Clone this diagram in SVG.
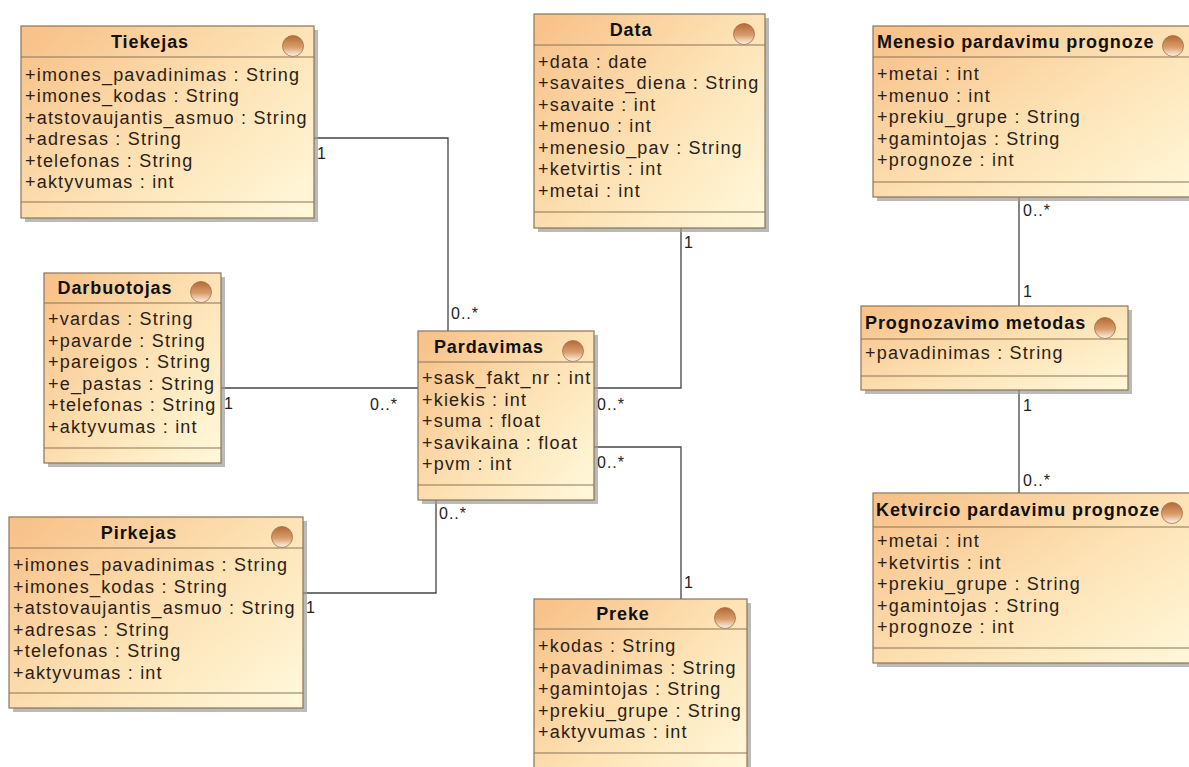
<svg xmlns="http://www.w3.org/2000/svg" width="1189" height="767" viewBox="0 0 1189 767">
<defs>
<linearGradient id="fillG" x1="0" y1="0.1" x2="1" y2="0.9">
<stop offset="0" stop-color="#F8C28A"/>
<stop offset="0.55" stop-color="#FDE3B6"/>
<stop offset="1" stop-color="#FFF7D8"/>
</linearGradient>
<linearGradient id="ballG" x1="0" y1="0" x2="0" y2="1">
<stop offset="0" stop-color="#B56A36"/>
<stop offset="0.55" stop-color="#D99C6A"/>
<stop offset="1" stop-color="#FFF6EC"/>
</linearGradient>
<style>
.shadow{fill:#9c9c9c;opacity:0.7}
.box{fill:url(#fillG);stroke:#8C7556;stroke-width:1.2}
.div{stroke:#8C7556;stroke-width:1.2}
.ball{fill:url(#ballG);stroke:#A07048;stroke-width:0.8}
.title{font-family:"Liberation Sans",Arial,sans-serif;font-weight:bold;font-size:18px;fill:#111;letter-spacing:0.9px}
.attr{font-family:"Liberation Sans",Arial,sans-serif;font-size:18px;fill:#2a1e16;letter-spacing:1.2px}
.mult{font-family:"Liberation Sans",Arial,sans-serif;font-size:16px;fill:#222;letter-spacing:1px}
.conn{fill:none;stroke:#444;stroke-width:1.3}
</style>
</defs>
<rect width="1189" height="767" fill="#ffffff"/>

<g id="connectors">
<path class="conn" d="M314 138 H448 V331"/>
<path class="conn" d="M221 388 H418"/>
<path class="conn" d="M681 228 V388 H594"/>
<path class="conn" d="M594 447 H681 V599"/>
<path class="conn" d="M436 500 V593 H303"/>
<path class="conn" d="M1019 197 V306"/>
<path class="conn" d="M1019 390 V493"/>
<text class="mult" x="317" y="159">1</text>
<text class="mult" x="451" y="319">0..*</text>
<text class="mult" x="224" y="409">1</text>
<text class="mult" x="370" y="410">0..*</text>
<text class="mult" x="597" y="410">0..*</text>
<text class="mult" x="684" y="248">1</text>
<text class="mult" x="597" y="468">0..*</text>
<text class="mult" x="684" y="588">1</text>
<text class="mult" x="439" y="519">0..*</text>
<text class="mult" x="306" y="613">1</text>
<text class="mult" x="1023" y="216">0..*</text>
<text class="mult" x="1023" y="297">1</text>
<text class="mult" x="1023" y="411">1</text>
<text class="mult" x="1023" y="486">0..*</text>
</g>

<g id="tiekejas">
<rect class="shadow" x="25" y="30" width="293" height="192"/>
<rect class="box" x="21" y="26" width="293" height="192"/>
<line class="div" x1="21" y1="57" x2="314" y2="57"/>
<line class="div" x1="21" y1="202" x2="314" y2="202"/>
<circle class="ball" cx="293" cy="46" r="10.5"/>
<text class="title" x="150" y="48" text-anchor="middle">Tiekejas</text>
<text class="attr" x="25" y="80.5">+imones_pavadinimas : String</text>
<text class="attr" x="25" y="102">+imones_kodas : String</text>
<text class="attr" x="25" y="123.5">+atstovaujantis_asmuo : String</text>
<text class="attr" x="25" y="145">+adresas : String</text>
<text class="attr" x="25" y="166.5">+telefonas : String</text>
<text class="attr" x="25" y="188">+aktyvumas : int</text>
</g>

<g id="data">
<rect class="shadow" x="538" y="18" width="231" height="214"/>
<rect class="box" x="534" y="14" width="231" height="214"/>
<line class="div" x1="534" y1="45" x2="765" y2="45"/>
<line class="div" x1="534" y1="212" x2="765" y2="212"/>
<circle class="ball" cx="744" cy="34" r="10.5"/>
<text class="title" x="631" y="36" text-anchor="middle">Data</text>
<text class="attr" x="538" y="67.5">+data : date</text>
<text class="attr" x="538" y="89">+savaites_diena : String</text>
<text class="attr" x="538" y="110.5">+savaite : int</text>
<text class="attr" x="538" y="132">+menuo : int</text>
<text class="attr" x="538" y="153.5">+menesio_pav : String</text>
<text class="attr" x="538" y="175">+ketvirtis : int</text>
<text class="attr" x="538" y="196.5">+metai : int</text>
</g>

<g id="menesio">
<rect class="shadow" x="877" y="30" width="330" height="171"/>
<rect class="box" x="873" y="26" width="330" height="171"/>
<line class="div" x1="873" y1="57" x2="1203" y2="57"/>
<line class="div" x1="873" y1="182" x2="1203" y2="182"/>
<circle class="ball" cx="1173" cy="46" r="10.5"/>
<text class="title" x="877" y="48">Menesio pardavimu prognoze</text>
<text class="attr" x="877" y="80">+metai : int</text>
<text class="attr" x="877" y="101.5">+menuo : int</text>
<text class="attr" x="877" y="123">+prekiu_grupe : String</text>
<text class="attr" x="877" y="144.5">+gamintojas : String</text>
<text class="attr" x="877" y="166">+prognoze : int</text>
</g>

<g id="darbuotojas">
<rect class="shadow" x="48" y="277" width="177" height="190"/>
<rect class="box" x="44" y="273" width="177" height="190"/>
<line class="div" x1="44" y1="303" x2="221" y2="303"/>
<line class="div" x1="44" y1="448" x2="221" y2="448"/>
<circle class="ball" cx="201" cy="292" r="10.5"/>
<text class="title" x="115" y="294" text-anchor="middle">Darbuotojas</text>
<text class="attr" x="48" y="325">+vardas : String</text>
<text class="attr" x="48" y="346.5">+pavarde : String</text>
<text class="attr" x="48" y="368">+pareigos : String</text>
<text class="attr" x="48" y="389.5">+e_pastas : String</text>
<text class="attr" x="48" y="411">+telefonas : String</text>
<text class="attr" x="48" y="432.5">+aktyvumas : int</text>
</g>

<g id="pardavimas">
<rect class="shadow" x="422" y="335" width="176" height="169"/>
<rect class="box" x="418" y="331" width="176" height="169"/>
<line class="div" x1="418" y1="362" x2="594" y2="362"/>
<line class="div" x1="418" y1="485" x2="594" y2="485"/>
<circle class="ball" cx="573" cy="351" r="10.5"/>
<text class="title" x="489" y="352.5" text-anchor="middle">Pardavimas</text>
<text class="attr" x="422" y="384">+sask_fakt_nr : int</text>
<text class="attr" x="422" y="405.5">+kiekis : int</text>
<text class="attr" x="422" y="427">+suma : float</text>
<text class="attr" x="422" y="448.5">+savikaina : float</text>
<text class="attr" x="422" y="470">+pvm : int</text>
</g>

<g id="prognozavimo">
<rect class="shadow" x="865" y="310" width="267" height="84"/>
<rect class="box" x="861" y="306" width="267" height="84"/>
<line class="div" x1="861" y1="339" x2="1128" y2="339"/>
<line class="div" x1="861" y1="376" x2="1128" y2="376"/>
<circle class="ball" cx="1105" cy="328" r="10.5"/>
<text class="title" x="865" y="328.5">Prognozavimo metodas</text>
<text class="attr" x="865" y="359">+pavadinimas : String</text>
</g>

<g id="pirkejas">
<rect class="shadow" x="13" y="521" width="294" height="191"/>
<rect class="box" x="9" y="517" width="294" height="191"/>
<line class="div" x1="9" y1="548" x2="303" y2="548"/>
<line class="div" x1="9" y1="693" x2="303" y2="693"/>
<circle class="ball" cx="282" cy="537" r="10.5"/>
<text class="title" x="139" y="538.5" text-anchor="middle">Pirkejas</text>
<text class="attr" x="13" y="571">+imones_pavadinimas : String</text>
<text class="attr" x="13" y="592.5">+imones_kodas : String</text>
<text class="attr" x="13" y="614">+atstovaujantis_asmuo : String</text>
<text class="attr" x="13" y="635.5">+adresas : String</text>
<text class="attr" x="13" y="657">+telefonas : String</text>
<text class="attr" x="13" y="678.5">+aktyvumas : int</text>
</g>

<g id="preke">
<rect class="shadow" x="538" y="603" width="213" height="180"/>
<rect class="box" x="534" y="599" width="213" height="180"/>
<line class="div" x1="534" y1="629" x2="747" y2="629"/>
<line class="div" x1="534" y1="753" x2="747" y2="753"/>
<circle class="ball" cx="725" cy="618" r="10.5"/>
<text class="title" x="623" y="620" text-anchor="middle">Preke</text>
<text class="attr" x="538" y="652">+kodas : String</text>
<text class="attr" x="538" y="673.5">+pavadinimas : String</text>
<text class="attr" x="538" y="695">+gamintojas : String</text>
<text class="attr" x="538" y="716.5">+prekiu_grupe : String</text>
<text class="attr" x="538" y="738">+aktyvumas : int</text>
</g>

<g id="ketvircio">
<rect class="shadow" x="877" y="497" width="330" height="170"/>
<rect class="box" x="873" y="493" width="330" height="170"/>
<line class="div" x1="873" y1="527" x2="1203" y2="527"/>
<line class="div" x1="873" y1="648" x2="1203" y2="648"/>
<circle class="ball" cx="1172" cy="513" r="10.5"/>
<text class="title" x="876" y="516">Ketvircio pardavimu prognoze</text>
<text class="attr" x="877" y="547">+metai : int</text>
<text class="attr" x="877" y="568.5">+ketvirtis : int</text>
<text class="attr" x="877" y="590">+prekiu_grupe : String</text>
<text class="attr" x="877" y="611.5">+gamintojas : String</text>
<text class="attr" x="877" y="633">+prognoze : int</text>
</g>
</svg>
